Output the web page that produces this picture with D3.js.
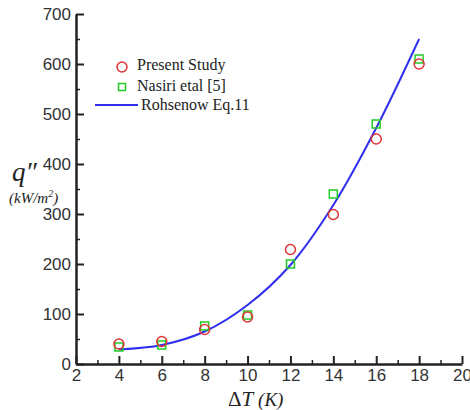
<!DOCTYPE html>
<html>
<head>
<meta charset="utf-8">
<script src="https://cdn.jsdelivr.net/npm/d3@7"></script>
<style>
  body { margin: 0; background: #fff; }
  .tick text { font-family: "Liberation Sans", Arial, sans-serif; }
</style>
</head>
<body>
<script>
// data
var deltaT     = [4, 6, 8, 10, 12, 14, 16, 18];
var present    = [40, 45, 69, 94, 229, 299, 450, 600];
var nasiri     = [34, 38, 76, 98, 200, 340, 480, 610];
var rohsenow   = [29, 38, 65, 118, 198, 318, 472, 650];
var xTicks     = [2, 4, 6, 8, 10, 12, 14, 16, 18, 20];
var yTicks     = [0, 100, 200, 300, 400, 500, 600, 700];

var W = 470, H = 410;
var plotL = 76, plotT = 14, plotR = 462, plotB = 364;

var svg = d3.select("body")
    .append("svg")
    .attr("width", W)
    .attr("height", H);

var x = d3.scaleLinear().domain([2, 20]).range([plotL, plotR]);
var y = d3.scaleLinear().domain([0, 700]).range([plotB, plotT]);

// minor ticks
svg.append("g")
    .attr("transform", "translate(0," + plotB + ")")
    .call(d3.axisTop(x).tickValues(d3.range(3, 20, 2)).tickSize(4).tickFormat(""))
    .call(g => g.select(".domain").remove())
    .selectAll("line").attr("stroke", "#222").attr("stroke-width", 1.5);
svg.append("g")
    .attr("transform", "translate(" + plotL + ",0)")
    .call(d3.axisRight(y).tickValues(d3.range(50, 700, 100)).tickSize(4).tickFormat(""))
    .call(g => g.select(".domain").remove())
    .selectAll("line").attr("stroke", "#222").attr("stroke-width", 1.5);

// x axis, ticks inside
var xa = svg.append("g")
    .attr("transform", "translate(0," + plotB + ")")
    .call(d3.axisBottom(x).tickValues(xTicks).tickSizeInner(-8).tickSizeOuter(0).tickPadding(6));
xa.select(".domain").attr("stroke", "#222").attr("stroke-width", 2.5);
xa.selectAll("line").attr("stroke", "#222").attr("stroke-width", 2);
xa.selectAll("text").attr("font-size", "17px").attr("fill", "#333").attr("y", 5).attr("dy", "0.71em");

// y axis, ticks inside
var ya = svg.append("g")
    .attr("transform", "translate(" + plotL + ",0)")
    .call(d3.axisLeft(y).tickValues(yTicks).tickSizeInner(-8).tickSizeOuter(0).tickPadding(5));
ya.select(".domain").attr("stroke", "#222").attr("stroke-width", 2.5);
ya.selectAll("line").attr("stroke", "#222").attr("stroke-width", 2);
ya.selectAll("text").attr("font-size", "17px").attr("fill", "#333").attr("x", -5);

// Rohsenow curve
var line = d3.line()
    .x((d, i) => x(deltaT[i]))
    .y(d => y(d))
    .curve(d3.curveCatmullRom.alpha(0.5));
svg.append("path")
    .datum(rohsenow)
    .attr("d", line)
    .attr("fill", "none")
    .attr("stroke", "#2f2fee")
    .attr("stroke-width", 2);

// Nasiri squares
svg.selectAll(".sq")
    .data(nasiri)
    .enter().append("rect")
    .attr("class", "sq")
    .attr("x", (d, i) => x(deltaT[i]) - 4)
    .attr("y", d => y(d) - 4)
    .attr("width", 8)
    .attr("height", 8)
    .attr("fill", "none")
    .attr("stroke", "#22cc22")
    .attr("stroke-width", 1.5);

// present study circles
svg.selectAll(".ci")
    .data(present)
    .enter().append("circle")
    .attr("class", "ci")
    .attr("cx", (d, i) => x(deltaT[i]))
    .attr("cy", d => y(d))
    .attr("r", 5)
    .attr("fill", "none")
    .attr("stroke", "#e03535")
    .attr("stroke-width", 1.5);

// legend
var serif = "'Liberation Serif', 'Times New Roman', serif";
svg.append("circle").attr("cx", 122).attr("cy", 67).attr("r", 5)
    .attr("fill", "none").attr("stroke", "#e03535").attr("stroke-width", 1.5);
svg.append("text").attr("x", 137).attr("y", 70).text("Present Study")
    .attr("font-family", serif).attr("font-size", "16px").attr("fill", "#222");
svg.append("rect").attr("x", 118.5).attr("y", 83.5).attr("width", 7).attr("height", 7)
    .attr("fill", "none").attr("stroke", "#22cc22").attr("stroke-width", 1.5);
svg.append("text").attr("x", 137).attr("y", 91).text("Nasiri etal [5]")
    .attr("font-family", serif).attr("font-size", "16px").attr("fill", "#222");
svg.append("line").attr("x1", 95).attr("x2", 138).attr("y1", 105).attr("y2", 105)
    .attr("stroke", "#2f2fee").attr("stroke-width", 2);
svg.append("text").attr("x", 141).attr("y", 110).text("Rohsenow Eq.11")
    .attr("font-family", serif).attr("font-size", "16px").attr("fill", "#222");

// y label
var yl = svg.append("text").attr("x", 12).attr("y", 181)
    .attr("font-family", serif).attr("fill", "#222");
yl.append("tspan").attr("font-style", "italic").attr("font-size", "27px").text("q\u2033");
var yu = svg.append("text").attr("x", 9).attr("y", 203)
    .attr("font-family", serif).attr("fill", "#222").attr("font-size", "15px").attr("font-style", "italic");
yu.append("tspan").text("(kW/m");
yu.append("tspan").attr("font-size", "10px").attr("dy", -6).text("2");
yu.append("tspan").attr("dy", 6).text(")");

// x label
var xl = svg.append("text").attr("x", 228).attr("y", 406)
    .attr("font-family", serif).attr("font-size", "21px").attr("fill", "#222");
xl.append("tspan").text("\u0394");
xl.append("tspan").attr("font-style", "italic").text("T ");
xl.append("tspan").attr("font-style", "italic").attr("font-size", "19px").text("(K)");
</script>
</body>
</html>
